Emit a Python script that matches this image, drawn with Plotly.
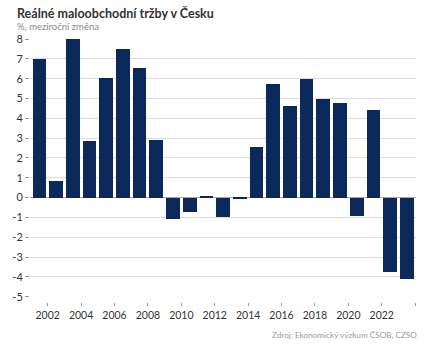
import plotly.graph_objects as go

years = list(range(2001, 2024))
values = [7.0, 0.85, 8.0, 2.85, 6.05, 7.5, 6.55, 2.9, -1.1, -0.75, 0.05, -1.0, -0.05,
          2.55, 5.75, 4.6, 6.0, 4.95, 4.75, -0.95, 4.4, -3.75, -4.1]
x_tick_years = list(range(2002, 2025, 2))
x_tick_labels = [str(y) for y in range(2002, 2023, 2)] + [""]
y_ticks = list(range(-5, 9))
y_tick_labels = [str(v) for v in y_ticks]

title = "Reálné maloobchodní tržby v Česku"
subtitle = "%, meziroční změna"
source = "Zdroj: Ekonomický výzkum ČSOB, CZSO"

FONT = "Lato"
BAR = "#0b2a5b"

L, R, T, B = 22, 14, 39, 50
W, H = 430, 352

fig = go.Figure()
fig.add_trace(go.Bar(
    x=[y + 0.5 for y in years], y=values, width=0.82,
    marker=dict(color=BAR, line=dict(width=0)),
    hoverinfo="x+y",
))

fig.update_layout(
    width=W, height=H,
    margin=dict(l=L, r=R, t=T, b=B),
    paper_bgcolor="white", plot_bgcolor="white",
    showlegend=False,
    font=dict(family=FONT, size=11, color="#333333"),
    bargap=0,
    xaxis=dict(
        range=[2000.94, 2024.05],
        tickvals=x_tick_years, ticktext=x_tick_labels,
        ticks="outside", ticklen=3, tickcolor="#9a9a9a", tickwidth=1,
        showgrid=False, zeroline=False, showline=False,
        anchor="free", position=0,
        tickfont=dict(size=10.5, color="#333333"),
    ),
    yaxis=dict(
        range=[-5, 8], domain=[0.02, 1],
        tickvals=y_ticks, ticktext=y_tick_labels,
        ticks="outside", ticklen=4, tickcolor="#9a9a9a", tickwidth=1,
        showgrid=True, gridcolor="#dcdcdc", gridwidth=1,
        zeroline=True, zerolinecolor="#a8a8a8", zerolinewidth=1,
        showline=False,
        tickfont=dict(size=11, color="#333333"),
    ),
    annotations=[
        dict(text="<b>" + title + "</b>", x=7, y=4, xref="paper", yref="paper",
             showarrow=False, xanchor="left", yanchor="top",
             font=dict(size=12.5, color="#333333", family=FONT)),
        dict(text=subtitle, x=7, y=19, xref="paper", yref="paper",
             showarrow=False, xanchor="left", yanchor="top",
             font=dict(size=9.5, color="#8a8a8a", family=FONT)),
        dict(text=source, x=419, y=328, xref="paper", yref="paper",
             showarrow=False, xanchor="right", yanchor="top",
             font=dict(size=8.2, color="#9a9a9a", family=FONT)),
    ],
)

# convert annotation pixel coords (from top-left) to paper fractions
pw = W - L - R
ph = H - T - B
for a in fig.layout.annotations:
    a.x = (a.x - L) / pw
    a.y = (H - B - a.y) / ph

fig.write_html("out.html")
